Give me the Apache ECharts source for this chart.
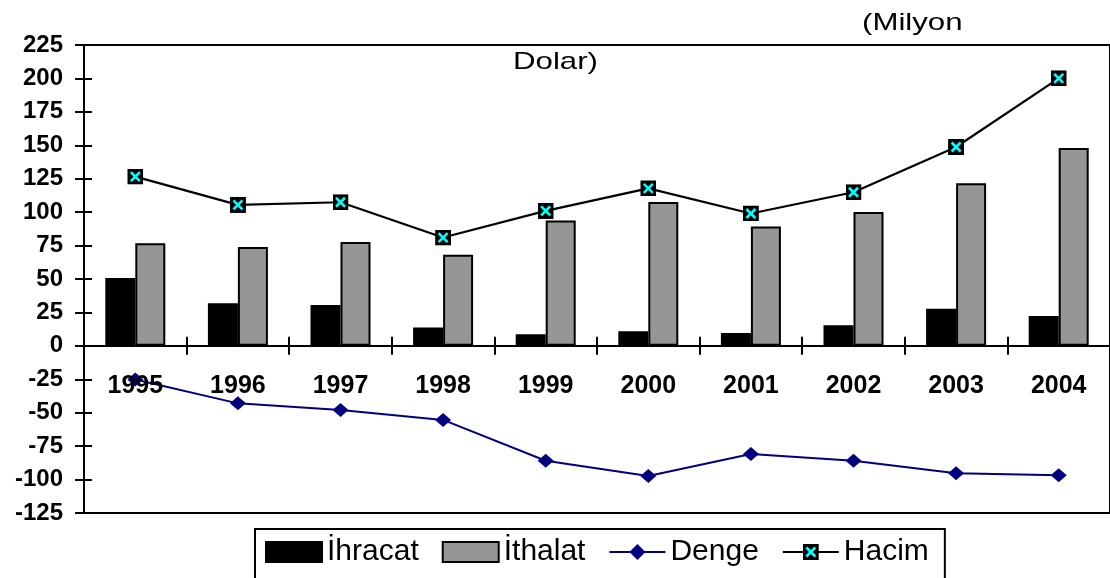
<!DOCTYPE html>
<html>
<head>
<meta charset="utf-8">
<script src="https://cdn.jsdelivr.net/npm/echarts@6/dist/echarts.min.js"></script>
<style>
  html, body { margin: 0; padding: 0; background: #fff; }
  #chart { width: 1110px; height: 578px; }
</style>
</head>
<body>
<div id="chart"></div>
<script>
// Dış ticaret göstergeleri, 1995-2004 (Milyon Dolar)
const years = ['1995', '1996', '1997', '1998', '1999', '2000', '2001', '2002', '2003', '2004'];
const ihracat = [50.8, 31.9, 30.6, 13.8, 8.7, 11.0, 9.7, 15.4, 27.7, 22.4];
const ithalat = [76.7, 73.9, 77.6, 68.2, 93.7, 107.6, 89.3, 100.2, 121.7, 148.0];
const denge = [-25.2, -43.0, -47.9, -55.4, -85.9, -97.3, -80.9, -85.9, -95.3, -96.8];
const hacim = [126.6, 105.4, 107.4, 81.0, 100.9, 117.8, 99.0, 114.9, 148.7, 200.1];
const yTicks = { min: -125, max: 225, step: 25 };

const FONT = '"Liberation Sans", Arial, sans-serif';

// plot box
const GRID = { left: 84, top: 45, width: 1030, height: 468 };
// the category axis sits on the zero line: shift it up from the bottom edge
const zeroShift = -GRID.height * (0 - yTicks.min) / (yTicks.max - yTicks.min);

// square marker with a cyan cross
const crossSvg = "<svg xmlns='http://www.w3.org/2000/svg' width='16' height='16'>" +
  "<rect x='0' y='0' width='16' height='16' fill='#000'/>" +
  "<path d='M3.5 3.5L12.5 12.5M12.5 3.5L3.5 12.5' stroke='#00ffff' stroke-width='2.6'/></svg>";
const crossSymbol = 'image://data:image/svg+xml;charset=utf-8,' + encodeURIComponent(crossSvg);

const chart = echarts.init(document.getElementById('chart'), null, { renderer: 'canvas' });

const tickStyle = { color: '#000', width: 2 };

chart.setOption({
  backgroundColor: '#ffffff',
  animation: false,
  textStyle: { fontFamily: FONT },
  grid: {
    left: GRID.left, top: GRID.top, width: GRID.width, height: GRID.height,
    show: true, borderColor: '#000', borderWidth: 2, backgroundColor: 'transparent',
    containLabel: false
  },
  graphic: [
    { type: 'text', x: 862, y: 11, scaleX: 1.3,
      style: { text: '(Milyon', font: '24px ' + FONT, fill: '#000' } },
    { type: 'text', x: 513, y: 50, scaleX: 1.3,
      style: { text: 'Dolar)', font: '24px ' + FONT, fill: '#000' } }
  ],
  legend: {
    left: 255, top: 529,
    orient: 'horizontal',
    borderColor: '#000', borderWidth: 2,
    padding: [8, 16, 30, 10],
    itemGap: 23,
    itemWidth: 56, itemHeight: 20,
    textStyle: { fontFamily: FONT, fontSize: 30, color: '#000' },
    data: [
      { name: 'İhracat', icon: 'rect' },
      { name: 'İthalat', icon: 'rect' },
      { name: 'Denge' },
      { name: 'Hacim' }
    ]
  },
  xAxis: [
    {
      type: 'category', data: years, position: 'bottom', offset: zeroShift,
      axisLine: { onZero: false, lineStyle: { color: '#000', width: 2 } },
      axisTick: { show: true, inside: false, length: 9, lineStyle: tickStyle },
      axisLabel: { margin: 28, fontSize: 25, fontWeight: 'bold', color: '#000', fontFamily: FONT, interval: 0 },
      splitLine: { show: false },
      z: 5
    },
    {
      type: 'category', data: years, position: 'bottom', offset: zeroShift,
      axisLine: { show: false, onZero: false },
      axisTick: { show: true, inside: true, length: 9, lineStyle: tickStyle },
      axisLabel: { show: false },
      splitLine: { show: false }
    }
  ],
  yAxis: [
    {
      type: 'value', min: yTicks.min, max: yTicks.max, interval: yTicks.step,
      position: 'left',
      axisLine: { show: true, onZero: false, lineStyle: { color: '#000', width: 2 } },
      axisTick: { show: true, inside: false, length: 9, lineStyle: tickStyle },
      axisLabel: { margin: 21, fontSize: 24, fontWeight: 'bold', color: '#000', fontFamily: FONT },
      splitLine: { show: false }
    },
    {
      type: 'value', min: yTicks.min, max: yTicks.max, interval: yTicks.step,
      position: 'left',
      axisLine: { show: false, onZero: false },
      axisTick: { show: true, inside: true, length: 8, lineStyle: tickStyle },
      axisLabel: { show: false },
      splitLine: { show: false }
    }
  ],
  series: [
    {
      name: 'İhracat', type: 'bar', data: ihracat,
      barWidth: 30, barGap: '0%',
      itemStyle: { color: '#000000', borderColor: '#000', borderWidth: 2 }
    },
    {
      name: 'İthalat', type: 'bar', data: ithalat,
      barWidth: 30, barGap: '0%',
      itemStyle: { color: '#969696', borderColor: '#000', borderWidth: 2 }
    },
    {
      name: 'Denge', type: 'line', data: denge,
      symbol: 'diamond', symbolSize: [16, 14],
      itemStyle: { color: '#000080' },
      lineStyle: { color: '#000080', width: 2 },
      z: 3
    },
    {
      name: 'Hacim', type: 'line', data: hacim,
      symbol: crossSymbol, symbolSize: 16,
      itemStyle: { color: '#000' },
      lineStyle: { color: '#000', width: 2.2 },
      z: 4
    }
  ]
});
</script>
</body>
</html>
